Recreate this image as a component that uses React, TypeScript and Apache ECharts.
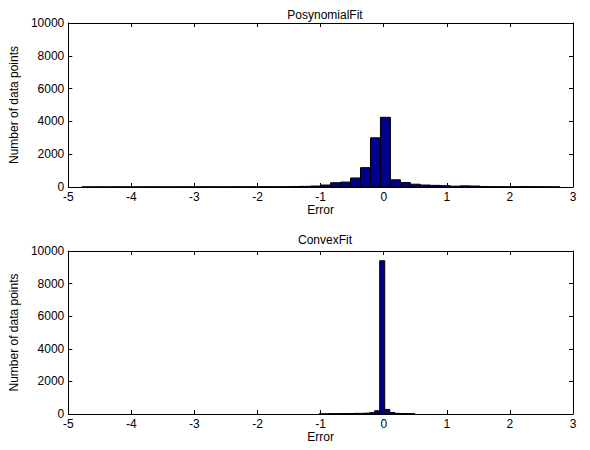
import React, { useEffect, useRef } from "react";
import * as echarts from "echarts";

// Top histogram (PosynomialFit): bin centers and counts
const topCenters = [
  -4.709, -4.551, -4.393, -4.235, -4.077, -3.919, -3.761, -3.603, -3.445, -3.287,
  -3.129, -2.971, -2.813, -2.655, -2.497, -2.339, -2.181, -2.023, -1.865, -1.711,
  -1.553, -1.395, -1.237, -1.079, -0.921, -0.763, -0.605, -0.447, -0.289, -0.131,
  0.027, 0.185, 0.343, 0.501, 0.659, 0.817, 0.975, 1.133, 1.291, 1.449,
  1.607, 1.765, 1.923, 2.081, 2.239, 2.397, 2.555, 2.713,
];
const topCounts = [
  5, 8, 6, 10, 8, 6, 10, 12, 8, 10,
  12, 10, 14, 12, 10, 15, 12, 14, 18, 15,
  20, 30, 40, 60, 120, 260, 300, 550, 1180, 3000,
  4250, 440, 270, 170, 120, 100, 80, 50, 70, 60,
  30, 20, 15, 20, 25, 20, 15, 10,
];
const topBinWidth = 0.158;

// Bottom histogram (ConvexFit)
const botCenters = [
  -0.984, -0.904, -0.824, -0.744, -0.664, -0.584, -0.504, -0.424, -0.344, -0.264,
  -0.184, -0.104, -0.024, 0.056, 0.136, 0.216, 0.296, 0.376, 0.456,
];
const botCounts = [
  10, 10, 20, 20, 30, 25, 30, 40, 40, 50,
  80, 200, 9400, 280, 90, 40, 30, 20, 15,
];
const botBinWidth = 0.08;

const titles = ["PosynomialFit", "ConvexFit"];
const xTicks = { min: -5, max: 3, interval: 1 };
const yTicks = { min: 0, max: 10000, interval: 2000 };

const FONT = "'Liberation Sans', Arial, Helvetica, sans-serif";
const BAR_COLOR = "#00008F";

function makeRender(width: number) {
  return (params: any, api: any) => {
    const c = api.value(0);
    const v = api.value(1);
    const p0 = api.coord([c - width / 2, v]);
    const p1 = api.coord([c + width / 2, 0]);
    return {
      type: "rect",
      shape: { x: p0[0], y: p0[1], width: p1[0] - p0[0], height: p1[1] - p0[1] },
      style: { fill: BAR_COLOR, stroke: "#000", lineWidth: 1 },
    };
  };
}

export default function App() {
  const ref = useRef<HTMLDivElement>(null);
  useEffect(() => {
    if (!ref.current) return;
    const chart = echarts.init(ref.current, undefined, { renderer: "svg" });
    const grids = [
      { left: 67, right: 17, top: 23, height: 164 },
      { left: 67, right: 17, top: 251, height: 163 },
    ];
    const textStyle = { fontFamily: FONT, fontSize: 12, color: "#000" };
    const xAxes: any[] = [];
    const yAxes: any[] = [];
    grids.forEach((_, i) => {
      xAxes.push({
        type: "value",
        gridIndex: i,
        ...xTicks,
        name: "Error",
        nameLocation: "middle",
        nameGap: 15,
        nameTextStyle: textStyle,
        axisLine: { show: true, onZero: false, lineStyle: { color: "#000", width: 1 } },
        axisTick: { show: true, inside: true, length: 4, lineStyle: { color: "#000" } },
        axisLabel: { ...textStyle, margin: 4, formatter: (v: number) => String(v) },
        splitLine: { show: false },
      });
      xAxes.push({
        type: "value",
        gridIndex: i,
        position: "top",
        ...xTicks,
        axisLine: { show: true, onZero: false, lineStyle: { color: "#000", width: 1 } },
        axisTick: { show: true, inside: true, length: 4, lineStyle: { color: "#000" } },
        axisLabel: { show: false },
        splitLine: { show: false },
      });
      yAxes.push({
        type: "value",
        gridIndex: i,
        ...yTicks,
        name: "Number of data points",
        nameLocation: "middle",
        nameGap: 44,
        nameTextStyle: textStyle,
        axisLine: { show: true, onZero: false, lineStyle: { color: "#000", width: 1 } },
        axisTick: { show: true, inside: true, length: 4, lineStyle: { color: "#000" } },
        axisLabel: { ...textStyle, margin: 4, formatter: (v: number) => String(v) },
        splitLine: { show: false },
      });
      yAxes.push({
        type: "value",
        gridIndex: i,
        position: "right",
        ...yTicks,
        axisLine: { show: true, onZero: false, lineStyle: { color: "#000", width: 1 } },
        axisTick: { show: true, inside: true, length: 4, lineStyle: { color: "#000" } },
        axisLabel: { show: false },
        splitLine: { show: false },
      });
    });
    chart.setOption({
      animation: false,
      backgroundColor: "#fff",
      title: [
        { text: titles[0], left: 320, top: 4, textAlign: "center", textStyle: { ...textStyle, fontWeight: "normal" } },
        { text: titles[1], left: 320, top: 229, textAlign: "center", textStyle: { ...textStyle, fontWeight: "normal" } },
      ],
      grid: grids,
      xAxis: xAxes,
      yAxis: yAxes,
      series: [
        {
          type: "custom",
          xAxisIndex: 0,
          yAxisIndex: 0,
          renderItem: makeRender(topBinWidth),
          data: topCenters.map((c, i) => [c, topCounts[i]]),
          encode: { x: 0, y: 1 },
          clip: true,
        },
        {
          type: "custom",
          xAxisIndex: 2,
          yAxisIndex: 2,
          renderItem: makeRender(botBinWidth),
          data: botCenters.map((c, i) => [c, botCounts[i]]),
          encode: { x: 0, y: 1 },
          clip: true,
        },
      ],
    });
    return () => chart.dispose();
  }, []);
  return (
    <div
      ref={ref}
      style={{ position: "fixed", left: 0, top: 0, width: 590, height: 450, background: "#fff" }}
    />
  );
}
